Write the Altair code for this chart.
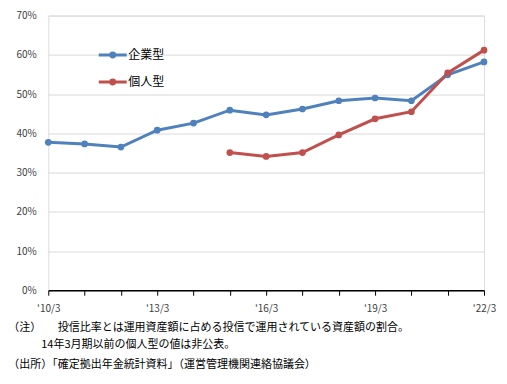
import altair as alt
import pandas as pd

years = [2010, 2011, 2012, 2013, 2014, 2015, 2016, 2017, 2018, 2019, 2020, 2021, 2022]
corporate = [37.7, 37.3, 36.5, 40.8, 42.6, 45.9, 44.7, 46.2, 48.3, 49.0, 48.3, 54.9, 58.2]
individual = [None, None, None, None, None, 35.1, 34.1, 35.1, 39.6, 43.7, 45.5, 55.4, 61.2]
series_names = ["企業型", "個人型"]
colors = ["#4F81BD", "#C0504D"]

rows = []
for name, vals in zip(series_names, [corporate, individual]):
    for y, v in zip(years, vals):
        if v is not None:
            rows.append({"year": y, "series": name, "value": v})
df = pd.DataFrame(rows)

FONT = "Noto Sans CJK JP"

legend_path = ("M-1,0 L1,0 M0.14,0 A0.14,0.14 0 1 1 -0.14,0 "
               "A0.14,0.14 0 1 1 0.14,0 Z")

color = alt.Color(
    "series:N",
    scale=alt.Scale(domain=series_names, range=colors),
    legend=alt.Legend(
        title=None, orient="none", legendX=49, legendY=24,
        symbolType=legend_path, symbolSize=784, symbolStrokeWidth=3,
        labelFontSize=12, labelFont=FONT, labelColor="#000000",
        labelOffset=0, rowPadding=3, padding=0,
    ),
)

x = alt.X(
    "year:Q",
    scale=alt.Scale(domain=[2010, 2022], nice=False, zero=False),
    axis=alt.Axis(
        title=None, values=years, grid=False,
        labelExpr="datum.value % 3 == 0 ? \"'\" + substring(toString(datum.value), 2, 4) + '/3' : ''",
        domainColor="#000000", domainWidth=1.5, tickColor="#000000", tickSize=5, tickWidth=1,
        labelFontSize=10, labelFont=FONT, labelColor="#404040", labelPadding=8,
        labelFlush=False,
    ),
)
y = alt.Y(
    "value:Q",
    scale=alt.Scale(domain=[0, 70], nice=False),
    axis=alt.Axis(
        title=None, values=[0, 10, 20, 30, 40, 50, 60, 70],
        labelExpr="datum.value + '%'", domain=False, ticks=False,
        gridColor="#d9d9d9", gridWidth=1,
        labelFontSize=10, labelFont=FONT, labelColor="#404040", labelPadding=12,
    ),
)

base = alt.Chart(df)
lines = base.mark_line(strokeWidth=3).encode(x=x, y=y, color=color, detail="series:N")
points = base.mark_point(filled=True, size=45, opacity=1).encode(x=x, y=y, color=color)

chart = alt.layer(lines, points).properties(
    width=436,
    height=274.8,
    autosize=alt.AutoSizeParams(type="none"),
    padding={"left": 40.3, "top": 7.5, "right": 15, "bottom": 86},
    title=alt.TitleParams(
        text=["（注）　　投信比率とは運用資産額に占める投信で運用されている資産額の割合。",
              "\u200b　　　14年3月期以前の個人型の値は非公表。"],
        subtitle="（出所）「確定拠出年金統計資料」（運営管理機関連絡協議会）",
        orient="bottom", anchor="start", frame="group", dx=-40,
        font=FONT, fontSize=11, fontWeight="normal", color="#000000", lineHeight=17,
        subtitleFont=FONT, subtitleFontSize=11, subtitleColor="#000000",
        subtitlePadding=9, offset=9,
    ),
).configure_view(stroke=None).configure(background="white")

chart.save("out.html", embed_options={"renderer": "svg", "actions": False})
